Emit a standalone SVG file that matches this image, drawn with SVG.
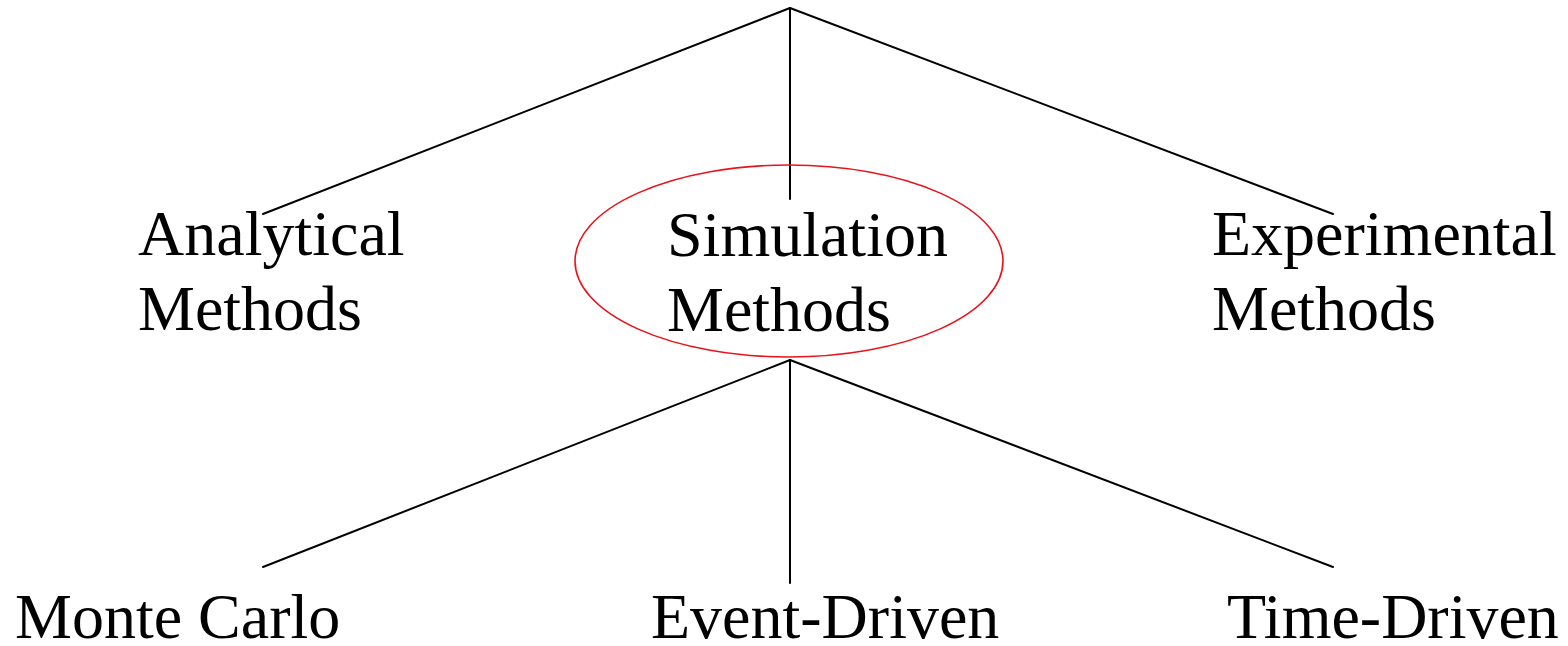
<svg xmlns="http://www.w3.org/2000/svg" width="1568" height="646" viewBox="0 0 1568 646">
<style>
.t{font-family:"Liberation Serif","Times New Roman",serif;font-size:64px;fill:#000}
.c{stroke:#000;stroke-width:2;fill:none;stroke-linecap:round}
</style>
<rect width="1568" height="646" fill="#fff"/>
<g id="connectors">
<line class="c" x1="790" y1="8" x2="263" y2="214"/>
<line class="c" x1="790" y1="8" x2="790" y2="199"/>
<line class="c" x1="790" y1="8" x2="1333" y2="214"/>
<line class="c" x1="790" y1="360" x2="263" y2="567"/>
<line class="c" x1="790" y1="360" x2="790" y2="583"/>
<line class="c" x1="790" y1="360" x2="1333" y2="567"/>
</g>
<g id="analytical">
<text class="t" x="138" y="255">Analytical</text>
<text class="t" x="138" y="330">Methods</text>
</g>
<g id="simulation">
<ellipse cx="789" cy="261" rx="214" ry="96" fill="none" stroke="#e8141b" stroke-width="1.6"/>
<text class="t" x="667" y="256">Simulation</text>
<text class="t" x="667" y="331">Methods</text>
</g>
<g id="experimental">
<text class="t" x="1212" y="255">Experimental</text>
<text class="t" x="1212" y="330">Methods</text>
</g>
<g id="montecarlo"><text class="t" x="15" y="638">Monte Carlo</text></g>
<g id="eventdriven"><text class="t" x="651" y="638">Event-Driven</text></g>
<g id="timedriven"><text class="t" x="1227" y="638">Time-Driven</text></g>
</svg>
